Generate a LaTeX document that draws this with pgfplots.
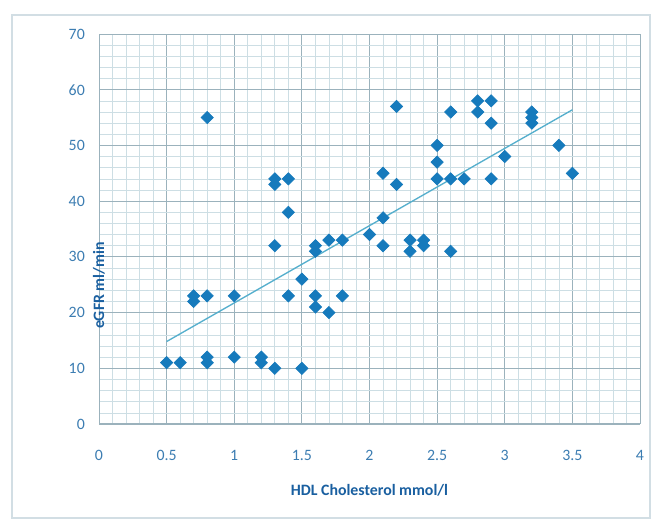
\documentclass[border=0pt]{standalone}
\usepackage{pgfplots}
\pgfplotsset{compat=1.18}
\usepackage{fontspec}
\setmainfont{Carlito}
\definecolor{ptcol}{RGB}{22,122,188}
\definecolor{trendcol}{RGB}{85,175,205}
\definecolor{tickcol}{RGB}{60,125,178}
\definecolor{labcol}{RGB}{25,95,160}
\definecolor{majgrid}{RGB}{155,178,188}
\definecolor{mingrid}{RGB}{205,222,228}
\definecolor{framecol}{RGB}{210,222,228}
\begin{document}
\begin{tikzpicture}
\useasboundingbox (0,0) rectangle (395.4pt,312.6pt);
\fill[white] (0,0) rectangle (395.4pt,312.6pt);
\draw[framecol,line width=0.8pt] (7.2pt,1.8pt) rectangle (390pt,303.6pt);
\begin{axis}[
  at={(59.4pt,58.2pt)}, anchor=south west,
  scale only axis, width=324.6pt, height=234pt,
  xmin=0, xmax=4, ymin=0, ymax=70,
  xtick={0,0.5,...,4}, ytick={0,10,...,70},
  minor x tick num=4, minor y tick num=4,
  grid=both,
  major grid style={majgrid,line width=0.5pt},
  minor grid style={mingrid,line width=0.4pt},
  axis line style={majgrid,line width=0.6pt},
  tick style={draw=none},
  /pgf/number format/assume math mode=true,
  ticklabel style={font=\fontsize{9.5}{11}\selectfont, text=tickcol},
  xticklabel style={yshift=-12pt},
  yticklabel style={xshift=-5pt},
  xlabel={HDL Cholesterol mmol/l},
  ylabel={eGFR ml/min},
  label style={font=\bfseries\fontsize{9.5}{11}\selectfont, text=labcol},
  xlabel style={at={(axis description cs:0.5,0)}, anchor=center, yshift=-39.6pt},
  ylabel style={at={(axis description cs:0,0.5)}, anchor=center, xshift=-34pt},
]
\addplot[only marks, mark=square*, mark size=2.6pt, mark options={rotate=45, fill=ptcol, draw=ptcol}] coordinates {
(0.5,11) (0.6,11)
(0.7,22) (0.7,23) (0.8,23)
(0.8,55)
(0.8,11) (0.8,12)
(1.0,23) (1.0,12)
(1.2,11) (1.2,12)
(1.3,10)
(1.3,43) (1.3,44) (1.4,44)
(1.4,38)
(1.3,32)
(1.4,23)
(1.5,26) (1.5,10)
(1.6,21) (1.6,23) (1.6,31) (1.6,32)
(1.7,20) (1.7,33)
(1.8,33) (1.8,23)
(2.0,34)
(2.1,37) (2.1,45) (2.1,32)
(2.2,57) (2.2,43)
(2.3,33) (2.3,31)
(2.4,32) (2.4,33)
(2.5,50) (2.5,47) (2.5,44)
(2.6,44) (2.6,56) (2.6,31)
(2.7,44)
(2.8,58) (2.8,56)
(2.9,58) (2.9,54) (2.9,44)
(3.0,48)
(3.2,56) (3.2,55) (3.2,54)
(3.4,50)
(3.5,45)
};
\addplot[trendcol, line width=0.8pt, no marks] coordinates {(0.5,14.8) (3.5,56.4)};
\end{axis}
\end{tikzpicture}
\end{document}
